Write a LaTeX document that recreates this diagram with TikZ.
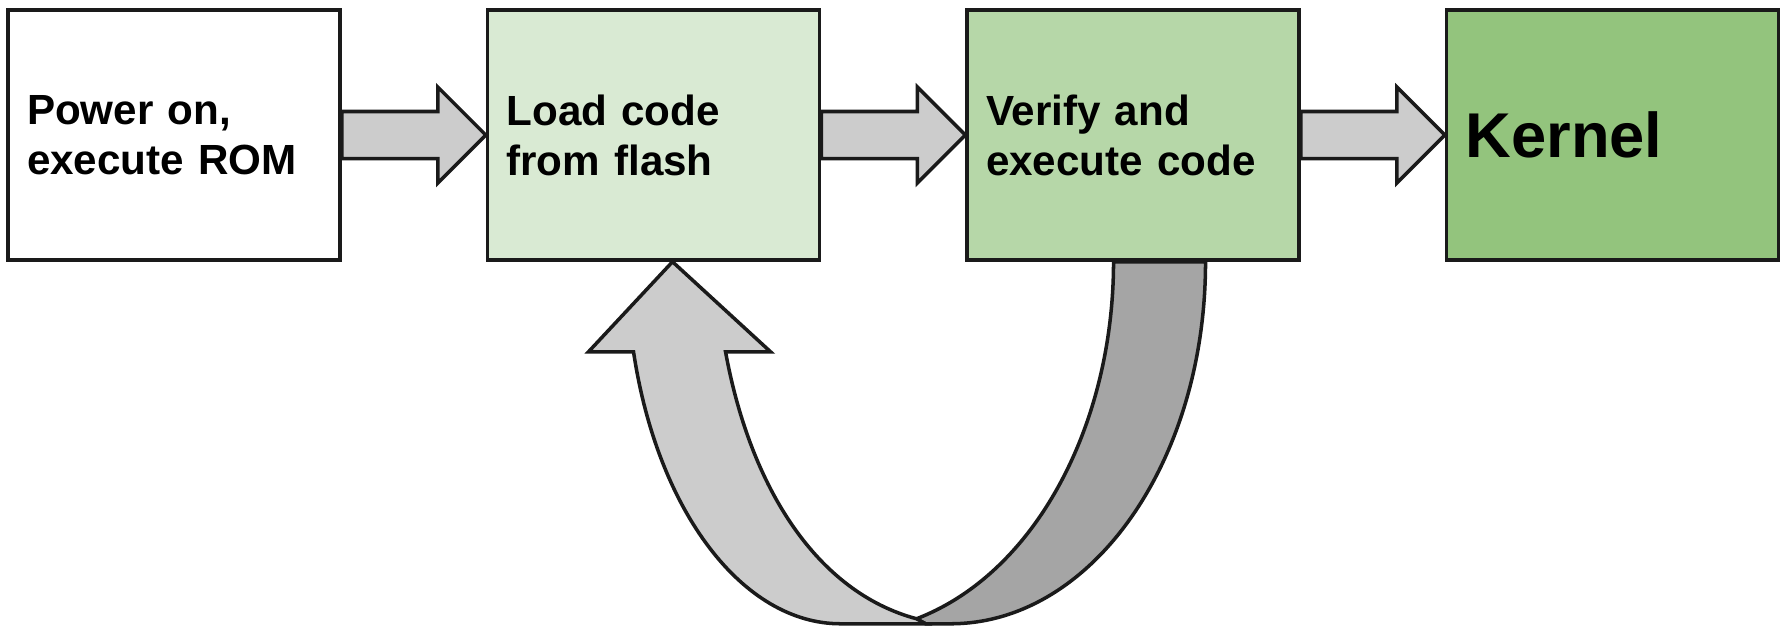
\documentclass[tikz,border=0pt]{standalone}
\usepackage{fontspec}
\setmainfont{Liberation Sans}
\usetikzlibrary{calc,chains,positioning}

\definecolor{edge}{HTML}{1A1A1A}
\definecolor{flashgreen}{HTML}{D9EAD3}
\definecolor{verifygreen}{HTML}{B6D7A8}
\definecolor{kernelgreen}{HTML}{93C47D}
\definecolor{lightband}{HTML}{CCCCCC}
\definecolor{darkband}{HTML}{A5A5A5}

\begin{document}
\begin{tikzpicture}[stage/.style={rectangle, draw=edge, line width=1pt,
    text width=2.94cm, inner xsep=0.19cm, minimum height=2.5cm, align=left,
    font=\bfseries\fontsize{12}{14.2}\selectfont},
  bigarrow/.style={draw=edge, fill=lightband, line width=1pt, line join=miter},
  start chain, node distance=1.44cm]

  \useasboundingbox (0,0) rectangle (17.85,-6.26);

  \node[stage,on chain,fill=white] (power) at (1.74,-1.35) {Power on,\\execute ROM};
  \node[stage,on chain,fill=flashgreen] (load) {Load code\\from flash};
  \node[stage,on chain,fill=verifygreen] (verify) {Verify and\\execute code};
  \node[stage,on chain,fill=kernelgreen,
    font=\bfseries\fontsize{18}{21}\selectfont] (kernel) {Kernel};

  \foreach \a/\b in {power/load, load/verify, verify/kernel}
    \draw[bigarrow] let \p1 = (\a.east), \p2 = (\b.west) in
      (\x1,\y1+0.235cm) -- (\x2-0.48cm,\y1+0.235cm) -- (\x2-0.48cm,\y1+0.48cm)
      -- (\x2,\y1) -- (\x2-0.48cm,\y1-0.48cm) -- (\x2-0.48cm,\y1-0.235cm)
      -- (\x1,\y1-0.235cm) -- cycle;

  % back loop: verify -> load
  \begin{scope}[shift={(load.south)}]
    \draw[bigarrow,fill=darkband] (4.60,0) .. controls (4.60,-1.60) and (3.84,-3.105) .. (2.63,-3.57)
      -- (2.72,-3.62) -- (2.97,-3.62) .. controls (4.38,-3.62) and (5.52,-2.00) .. (5.52,0) -- cycle;
    \draw[bigarrow] (0.19,0) -- (1.17,-0.90) -- (0.72,-0.90)
      .. controls (0.97,-2.265) and (1.636,-3.304) .. (2.63,-3.57) -- (2.72,-3.62) -- (1.87,-3.62)
      .. controls (0.895,-3.62) and (0.04,-2.50) .. (-0.20,-0.90) -- (-0.65,-0.90) -- cycle;
  \end{scope}

\end{tikzpicture}
\end{document}
